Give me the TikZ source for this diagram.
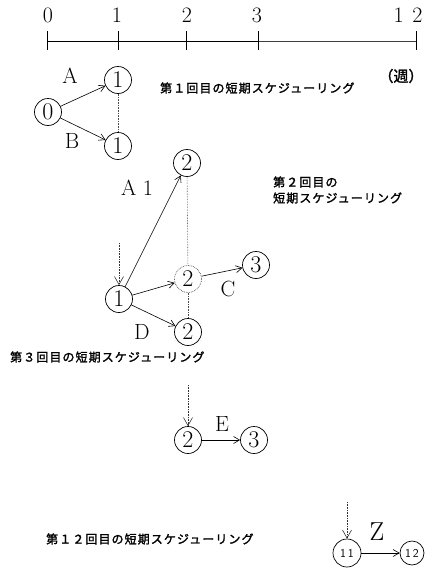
\documentclass[tikz,border=0pt]{standalone}
\usepackage{fontspec}
\newfontfamily\jp[LetterSpace=9,FakeBold=1.8]{Noto Sans CJK JP}
\newfontfamily\jpw[FakeBold=1.8]{Noto Sans CJK JP}
\usetikzlibrary{arrows.meta}
\begin{document}
\begin{tikzpicture}[x=1pt,y=-1pt,
  st/.style={circle,draw,line width=0.7pt,minimum size=27pt,inner sep=0pt,font=\fontsize{24}{24}\selectfont},
  stdot/.style={st,densely dotted,draw=black!70},
  small/.style={circle,draw,line width=0.7pt,inner sep=0pt,font=\sffamily\fontsize{12}{12}\selectfont},
  arr/.style={-{Straight Barb[length=6pt,width=7pt]},line width=0.6pt},
  entry/.style={-{Straight Barb[length=8pt,width=9pt]},densely dotted,line width=0.6pt,draw=black!80},
  link/.style={densely dotted,line width=0.6pt,draw=black!70},
  lbl/.style={font=\fontsize{22}{22}\selectfont},
  jtxt/.style={font=\jp\fontsize{12}{14}\selectfont,anchor=west,inner sep=0pt},
  tick/.style={line width=0.7pt}]
\useasboundingbox (0,0) rectangle (432,573);
% timeline
\coordinate (t0) at (47,41);
\coordinate (t1) at (118,41);
\coordinate (t2) at (186,41);
\coordinate (t3) at (258,41);
\coordinate (t12) at (416,41);
\draw[line width=0.7pt] (t0) -- (t3);
\draw[line width=0.6pt,draw=black!75] (t3) -- (t12);
\foreach \t in {t0,t1,t2,t3,t12} \draw[tick] ([yshift=-9pt]\t) -- ([yshift=10pt]\t);
\node[lbl] (l0) at (48,15) {0};
\node[lbl] (l1) at (117,15) {1};
\node[lbl] (l2) at (187,15) {2};
\node[lbl] (l3) at (257,15) {3};
\node[lbl] (l12) at (408,15) {1\hspace{0.4em}2};
\node[font=\jpw\fontsize{15}{15}\selectfont] (week) at (401,76) {（週）};
% first
\node[st] (n0) at (48,112) {0};
\node[st] (a1) at (118,80) {1};
\node[st] (b1) at (118,146) {1};
\draw[arr] (n0) -- (a1);
\draw[arr] (n0) -- (b1);
\draw[link] (a1) -- (b1);
\node[lbl] (lA) at (70,76) {A};
\node[lbl] (lB) at (72,141) {B};
\node[jtxt] (txt1) at (160,88) {第１回目の短期スケジューリング};
% second
\node[st] (t2n) at (187,163) {2};
\node[st] (m1) at (119,299) {1};
\node[stdot] (d2) at (188,279) {2};
\node[st] (b2) at (188,332) {2};
\node[st] (n3) at (256,265) {3};
\coordinate (m1in) at (119,243);
\draw[entry] (m1in) -- (m1);
\draw[arr] (m1) -- (t2n);
\draw[arr] (m1) -- (d2);
\draw[arr] (m1) -- (b2);
\draw[arr] (d2) -- (n3);
\draw[link] (t2n) -- (d2);
\draw[link] (d2) -- (b2);
\node[lbl] (lA1) at (137,188) {A\hspace{0.3em}1};
\node[lbl] (lC) at (228,289) {C};
\node[lbl] (lD) at (142,332) {D};
\node[jtxt] (txt2a) at (273,182) {第２回目の};
\node[jtxt] (txt2b) at (273,198) {短期スケジューリング};
% third
\node[jtxt] (txt3) at (10,357) {第３回目の短期スケジューリング};
\node[st] (e2) at (188,440) {2};
\node[st] (e3) at (254,440) {3};
\coordinate (e2in) at (188,385);
\draw[entry] (e2in) -- (e2);
\draw[arr] (e2) -- (e3);
\node[lbl] (lE) at (222,424) {E};
% twelfth
\node[jtxt] (txt12) at (46,539) {第１２回目の短期スケジューリング};
\node[small,minimum width=28pt,minimum height=26pt] (z11) at (347,553) {1\,1};
\node[small,minimum size=24pt] (z12) at (412,553) {1\,2};
\coordinate (z11in) at (347,502);
\draw[entry] (z11in) -- (z11);
\draw[arr] (z11) -- (z12);
\node[font=\fontsize{26}{26}\selectfont] (lZ) at (377,532) {Z};
\end{tikzpicture}
\end{document}
